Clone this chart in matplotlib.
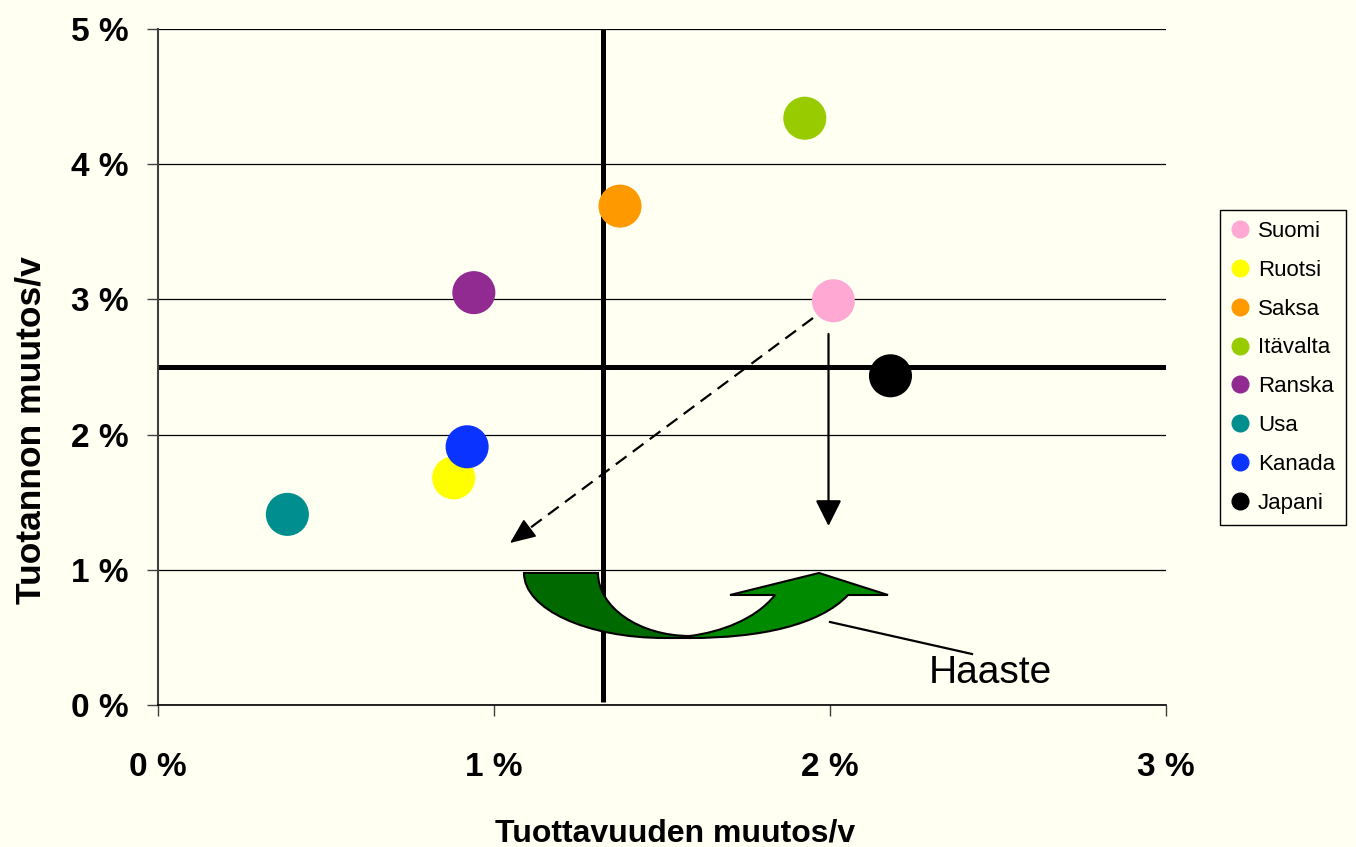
import matplotlib
matplotlib.use("Agg")
import matplotlib.pyplot as plt
from matplotlib.lines import Line2D
from matplotlib.path import Path
from matplotlib.patches import PathPatch

plt.rcParams['font.family'] = ['Liberation Sans', 'DejaVu Sans']

# ---- data ----
countries = ["Suomi", "Ruotsi", "Saksa", "Itävalta", "Ranska", "Usa", "Kanada", "Japani"]
productivity = [2.01, 0.88, 1.375, 1.925, 0.94, 0.385, 0.92, 2.18]   # x, %
production = [2.99, 1.68, 3.69, 4.34, 3.05, 1.41, 1.91, 2.435]       # y, %
colors = ["#FFA8D4", "#FFFF00", "#FF9900", "#99CC00", "#912A91", "#008E8E", "#0A33FF", "#000000"]
x_ticks = [0, 1, 2, 3]
y_ticks = [0, 1, 2, 3, 4, 5]
x_ref = 1.325
y_ref = 2.5
xlabel = "Tuottavuuden muutos/v"
ylabel = "Tuotannon muutos/v"
note = "Haaste"

BG = "#FFFFF2"
W, H = 1356, 847
fig = plt.figure(figsize=(W / 100, H / 100), dpi=100, facecolor=BG)
ax = fig.add_axes([158 / W, 142 / H, 1008 / W, 676 / H], facecolor=BG)
ax.set_xlim(0, 3)
ax.set_ylim(0, 5)

# helper: image pixel -> data coords (for decorative annotations)
def P(px, py):
    return ((px - 158) / 336.0, (705 - py) / 135.2)

ax.set_xticks(x_ticks)
ax.set_xticklabels([f"{t} %" for t in x_ticks], fontsize=24, fontweight='bold')
ax.set_yticks(y_ticks)
ax.set_yticklabels([f"{t} %" for t in y_ticks], fontsize=24, fontweight='bold')
ax.tick_params(axis='y', direction='out', length=8, width=1, color='#404040', pad=13)
ax.tick_params(axis='x', direction='out', length=8, width=1, color='#404040', pad=26)

for s in ['top', 'right']:
    ax.spines[s].set_visible(False)
ax.spines['left'].set_color('#404040')
ax.spines['left'].set_linewidth(1.5)
ax.spines['bottom'].set_color('black')
ax.spines['bottom'].set_linewidth(1.2)

ax.yaxis.grid(True, color='black', lw=0.9)
ax.set_axisbelow(True)

# reference lines
ax.plot([x_ref, x_ref], [0.02, 5], color='black', lw=3.6, zorder=2, solid_capstyle='butt')
ax.plot([0, 3], [y_ref, y_ref], color='black', lw=3.6, zorder=2, solid_capstyle='butt')

# points
ax.scatter(productivity, production, s=31 ** 2, c=colors, edgecolors='none', zorder=5)

# dashed arrow
d0 = P(813, 318)
d1 = P(510, 543)
dm = P(526, 531)
ax.plot([d0[0], dm[0]], [d0[1], dm[1]], color='black', lw=1.6, linestyle=(0, (6, 3.5)), zorder=4)
ax.annotate('', xy=d1, xytext=dm,
            arrowprops=dict(arrowstyle='-|>,head_length=0.4,head_width=0.17', mutation_scale=40,
                            color='black', lw=1.2, shrinkA=0, shrinkB=0), zorder=4)
# solid arrow
s0 = P(828.5, 334)
s1 = P(828.5, 526)
ax.annotate('', xy=s1, xytext=s0,
            arrowprops=dict(arrowstyle='-|>,head_length=0.4,head_width=0.2', mutation_scale=40,
                            color='black', lw=1.6, shrinkA=0, shrinkB=0), zorder=4)

# green U-turn arrow
k = 0.5523
dark = [P(524, 573), P(598, 573),
        P(598, 573 + k * 62), P(690 - k * 92, 636), P(690, 636),
        P(690, 638), P(665, 638),
        P(665 - k * 141, 638), P(524, 574 + k * 64), P(524, 573),
        P(524, 573)]
dark_codes = [Path.MOVETO, Path.LINETO,
              Path.CURVE4, Path.CURVE4, Path.CURVE4,
              Path.LINETO, Path.LINETO,
              Path.CURVE4, Path.CURVE4, Path.CURVE4,
              Path.CLOSEPOLY]
ax.add_patch(PathPatch(Path(dark, dark_codes), facecolor='#006A00', edgecolor='black', lw=1.5, zorder=3))

light = [P(690, 638),
         P(760, 638), P(820, 625), P(848, 595),
         P(888, 595), P(819, 573), P(730, 595), P(775, 595),
         P(755, 620), P(720, 632), P(690, 636),
         P(690, 638)]
light_codes = [Path.MOVETO,
               Path.CURVE4, Path.CURVE4, Path.CURVE4,
               Path.LINETO, Path.LINETO, Path.LINETO, Path.LINETO,
               Path.CURVE4, Path.CURVE4, Path.CURVE4,
               Path.CLOSEPOLY]
ax.add_patch(PathPatch(Path(light, light_codes), facecolor='#008A00', edgecolor='black', lw=1.5, zorder=3))

# Haaste pointer and label
h0 = P(830, 622)
h1 = P(972, 654)
ax.plot([h0[0], h1[0]], [h0[1], h1[1]], color='black', lw=1.6, zorder=4)
ax.text(*P(990, 673), note, fontsize=28, ha='center', va='center', zorder=6)

# axis labels
ax.set_xlabel(xlabel, fontsize=23, fontweight='bold')
ax.xaxis.set_label_coords((675 - 158) / 1008, (705 - 818) / 676)
ax.set_ylabel(ylabel, fontsize=25.5, fontweight='bold')
ax.yaxis.set_label_coords((48 - 158) / 1008, (705 - 430) / 676)

# legend
handles = [Line2D([], [], marker='o', ls='', markersize=12, markerfacecolor=c, markeredgecolor=c)
           for c in colors]
leg = fig.legend(handles, countries, loc='upper left', bbox_to_anchor=(1220 / W, 1 - 210 / H),
                 fontsize=16, frameon=True, fancybox=False, edgecolor='black', facecolor=BG,
                 handlelength=0.8, handletextpad=0.4, labelspacing=0.8, borderpad=0.5,
                 borderaxespad=0, framealpha=1)
leg.get_frame().set_linewidth(1.0)

fig.savefig("out.png", dpi=100, facecolor=BG)
